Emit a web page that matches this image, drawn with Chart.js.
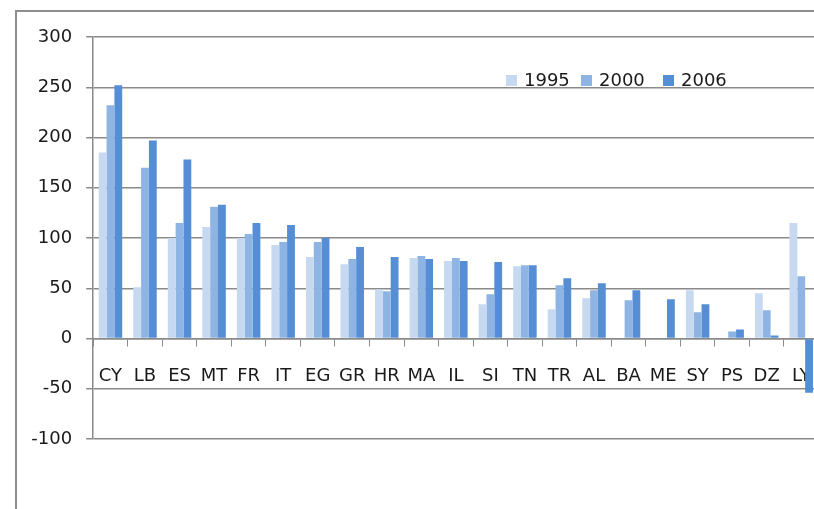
<!DOCTYPE html>
<html>
<head>
<meta charset="utf-8">
<script src="https://cdn.jsdelivr.net/npm/chart.js@4.4.1/dist/chart.umd.min.js"></script>
<style>
  html, body { margin: 0; padding: 0; background: #fff; overflow: hidden; }
  #wrap { position: relative; width: 814px; height: 509px; overflow: hidden; }
  #frame { position: absolute; left: 15px; top: 10px; width: 900px; height: 600px;
           border-left: 2px solid #8e8e8e; border-top: 2px solid #8e8e8e; }
  #chartBox { position: absolute; left: 0; top: 0; width: 826px; height: 509px; }
</style>
</head>
<body>
<div id="wrap">
  <div id="frame"></div>
  <div id="chartBox"><canvas id="productivityChart" width="826" height="509"></canvas></div>
</div>
<script>
// Chart data
const countries = ['CY', 'LB', 'ES', 'MT', 'FR', 'IT', 'EG', 'GR', 'HR', 'MA', 'IL',
                   'SI', 'TN', 'TR', 'AL', 'BA', 'ME', 'SY', 'PS', 'DZ', 'LY'];
const years = ['1995', '2000', '2006'];
const values1995 = [185, 51, 100, 111, 100, 93, 81, 74, 49, 80, 77, 34, 72, 29, 40, 0, 0, 48, 0, 45, 115];
const values2000 = [232, 170, 115, 131, 104, 96, 96, 79, 47, 82, 80, 44, 73, 53, 48, 38, 0, 26, 7, 28, 62];
const values2006 = [252, 197, 178, 133, 115, 113, 100, 91, 81, 79, 77, 76, 73, 60, 55, 48, 39, 34, 9, 3, -54];
const yTicks = [-100, -50, 0, 50, 100, 150, 200, 250, 300];

const seriesColors = ['#c6d9f1', '#8eb4e3', '#558ed5'];
const axisGray = '#8a8a8a';
const fontFamily = '"DejaVu Sans", sans-serif';

// Legend drawn inside the plot area, like the spreadsheet original
const insideLegend = {
    id: 'insideLegend',
    afterDraw(chart) {
        const ctx = chart.ctx;
        const xs = [506, 581, 663];
        ctx.save();
        ctx.font = '18px ' + fontFamily;
        ctx.textBaseline = 'middle';
        chart.data.datasets.forEach((ds, i) => {
            ctx.fillStyle = ds.backgroundColor;
            ctx.fillRect(xs[i], 75, 11, 11);
            ctx.fillStyle = '#1a1a1a';
            ctx.fillText(ds.label, xs[i] + 18, 81);
        });
        ctx.restore();
    }
};

const ctx = document.getElementById('productivityChart').getContext('2d');
new Chart(ctx, {
    type: 'bar',
    data: {
        labels: countries,
        datasets: [
            { label: years[0], data: values1995, backgroundColor: seriesColors[0] },
            { label: years[1], data: values2000, backgroundColor: seriesColors[1] },
            { label: years[2], data: values2006, backgroundColor: seriesColors[2] }
        ]
    },
    options: {
        responsive: false,
        animation: false,
        devicePixelRatio: 1,
        layout: { padding: { top: 37, bottom: 70, left: 0, right: 7.5 } },
        datasets: { bar: { categoryPercentage: 0.68, barPercentage: 1.0 } },
        plugins: {
            legend: { display: false },
            title: { display: false },
            tooltip: { enabled: false }
        },
        scales: {
            x: {
                position: { y: 0 },
                // the last label may hang over the edge, like the original
                afterFit(scale) { scale.paddingLeft = 0; scale.paddingRight = 0; },
                grid: { display: true, drawOnChartArea: false, drawTicks: true,
                        tickLength: 7, offset: true, color: axisGray, lineWidth: 1 },
                border: { display: true, color: axisGray, width: 1.5 },
                ticks: { color: '#1a1a1a', font: { family: fontFamily, size: 18 },
                         padding: 20, maxRotation: 0, autoSkip: false }
            },
            y: {
                min: -100,
                max: 300,
                afterFit(scale) { scale.width = 93.2; },
                afterBuildTicks(scale) { scale.ticks = yTicks.map(v => ({ value: v })); },
                grid: { color: axisGray, lineWidth: 1.5, tickLength: 7, drawTicks: true },
                border: { display: true, color: axisGray, width: 1.5 },
                ticks: { color: '#1a1a1a', font: { family: fontFamily, size: 18 }, padding: 14 }
            }
        }
    },
    plugins: [insideLegend]
});
</script>
</body>
</html>
